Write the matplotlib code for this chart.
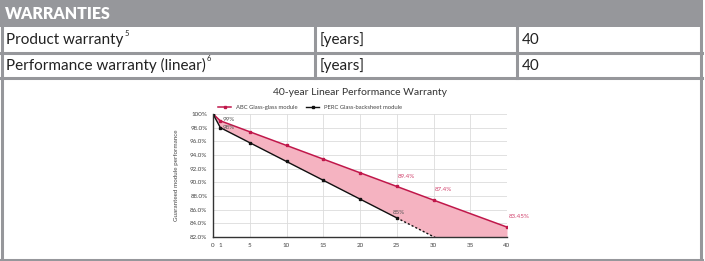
import matplotlib
matplotlib.use('Agg')
import matplotlib.pyplot as plt
from matplotlib.patches import Rectangle
from matplotlib.lines import Line2D
from matplotlib.ticker import FuncFormatter

plt.rcParams['font.family'] = ['Lato', 'DejaVu Sans']

# table content
header = 'WARRANTIES'
row_names = ['Product warranty', 'Performance warranty (linear)']
row_notes = ['5', '6']
row_units = ['[years]', '[years]']
row_values = ['40', '40']

# chart data
years = [0, 1, 5, 10, 15, 20, 25, 30, 40]
abc_perf = [100, 99, 97.4, 95.4, 93.4, 91.4, 89.4, 87.4, 83.45]
perc_years = [0, 1, 5, 10, 15, 20, 25]
perc_perf = [100, 98, 95.8, 93.05, 90.3, 87.55, 84.8]
# dotted continuation of the PERC line past year 25
perc_ext_years = [25, 30, 40]
perc_ext_perf = [84.8, 82.05, 76.55]

abc_label_years = [1, 25, 30, 40]
abc_labels = ['99%', '89.4%', '87.4%', '83.45%']
perc_label_years = [1, 25]
perc_labels = ['98%', '85%']

W, H = 705, 261
GREY = '#96979b'
RED = '#c0174a'
PINK = '#f5b3c1'


def fx(x):
    return x / W


def fy(y):
    return 1 - y / H


fig = plt.figure(figsize=(W / 100, H / 100), dpi=100)

# table frame
fig.add_artist(Rectangle((fx(0), fy(27)), fx(702), 27 / H, color=GREY,
                         transform=fig.transFigure, lw=0))
fig.text(fx(5), fy(14), header, color='white', fontsize=11.5, fontweight='heavy',
         va='center', ha='left')


def hline(y, x0=0, x1=702, lw=2.2):
    fig.add_artist(Line2D([fx(x0), fx(x1)], [fy(y), fy(y)], color=GREY, lw=lw,
                          transform=fig.transFigure))


def vline(x, y0, y1, lw=2.2):
    fig.add_artist(Line2D([fx(x), fx(x)], [fy(y0), fy(y1)], color=GREY, lw=lw,
                          transform=fig.transFigure))


hline(53)
hline(78)
hline(260)
vline(1.5, 0, 261)
vline(701, 0, 261)
vline(315, 27, 78)
vline(517, 27, 78)

row_y = [40, 65.5]
fig.canvas.draw()
renderer = fig.canvas.get_renderer()
for i in range(len(row_names)):
    t = fig.text(fx(6), fy(row_y[i]), row_names[i], fontsize=11, va='center', color='#222222')
    bb = t.get_window_extent(renderer)
    # small raised footnote number
    fig.text(fx(bb.x1 + 1), (bb.y1 + 3) / H, row_notes[i], fontsize=5.5, va='top',
             color='#222222')
    fig.text(fx(320), fy(row_y[i]), row_units[i], fontsize=11, va='center', color='#222222')
    fig.text(fx(522), fy(row_y[i]), row_values[i], fontsize=11, va='center', color='#222222')

# chart
ax = fig.add_axes([fx(213), fy(237), (507 - 213) / W, (237 - 114) / H])
ax.fill_between(years, abc_perf, [*perc_perf, *perc_ext_perf[1:]], color=PINK, lw=0, zorder=1)
ax.plot(years, abc_perf, color=RED, lw=1.1, marker='s', ms=1.6, zorder=3,
        label='ABC Glass-glass module')
ax.plot(perc_years, perc_perf, color='#111111', lw=1.0, marker='s', ms=1.6, zorder=3,
        label='PERC Glass-backsheet module')
ax.plot(perc_ext_years, perc_ext_perf, color='#111111', lw=1.0, ls=(0, (1.5, 1.5)), zorder=3)

for yr, txt in zip(abc_label_years, abc_labels):
    v = abc_perf[years.index(yr)]
    if yr == 1:
        ax.annotate(txt, (yr, v), xytext=(1.5, 1), textcoords='offset points',
                    fontsize=4.5, color='#555555', va='center')
    else:
        ax.annotate(txt, (yr, v), xytext=(1, 7.5), textcoords='offset points',
                    fontsize=4.5, color='#d2456f', va='center')
for yr, txt in zip(perc_label_years, perc_labels):
    v = perc_perf[perc_years.index(yr)]
    if yr == 1:
        ax.annotate(txt, (yr, v), xytext=(1.5, 0), textcoords='offset points',
                    fontsize=4.5, color='#555555', va='center')
    else:
        ax.annotate(txt, (yr, v), xytext=(-3, 4), textcoords='offset points',
                    fontsize=4.5, color='#555555', va='center')

ax.set_xlim(0, 40)
ax.set_ylim(82, 100)
ax.set_xticks(range(0, 41, 5))
ax.set_xticks([1], minor=True, labels=['1'])
ax.set_yticks(range(82, 101, 2))
ax.yaxis.set_major_formatter(FuncFormatter(lambda v, p: '100%' if v == 100 else f'{v:.1f}%'))
ax.grid(True, which='major', color='#dcdcdc', lw=0.6)
ax.set_axisbelow(True)
ax.tick_params(which='both', length=0, labelsize=4.5, labelcolor='#444444', pad=4)
for s in ['top', 'right']:
    ax.spines[s].set_visible(False)
for s in ['left', 'bottom']:
    ax.spines[s].set_color('#333333')
    ax.spines[s].set_linewidth(1.0)
ax.spines['left'].set_zorder(4)

ax.set_ylabel('Guaranteed module performance', fontsize=4.5, color='#444444', labelpad=8)
ax.set_title('40-year Linear Performance Warranty', fontsize=7.5, color='#333333', pad=14)
ax.legend(loc='lower center', bbox_to_anchor=(0.33, 1.0), ncol=2, frameon=False,
          fontsize=4.2, handlelength=2.2, columnspacing=1.5, borderaxespad=0.3,
          labelcolor='#444444')

fig.savefig('out.png', dpi=100)
